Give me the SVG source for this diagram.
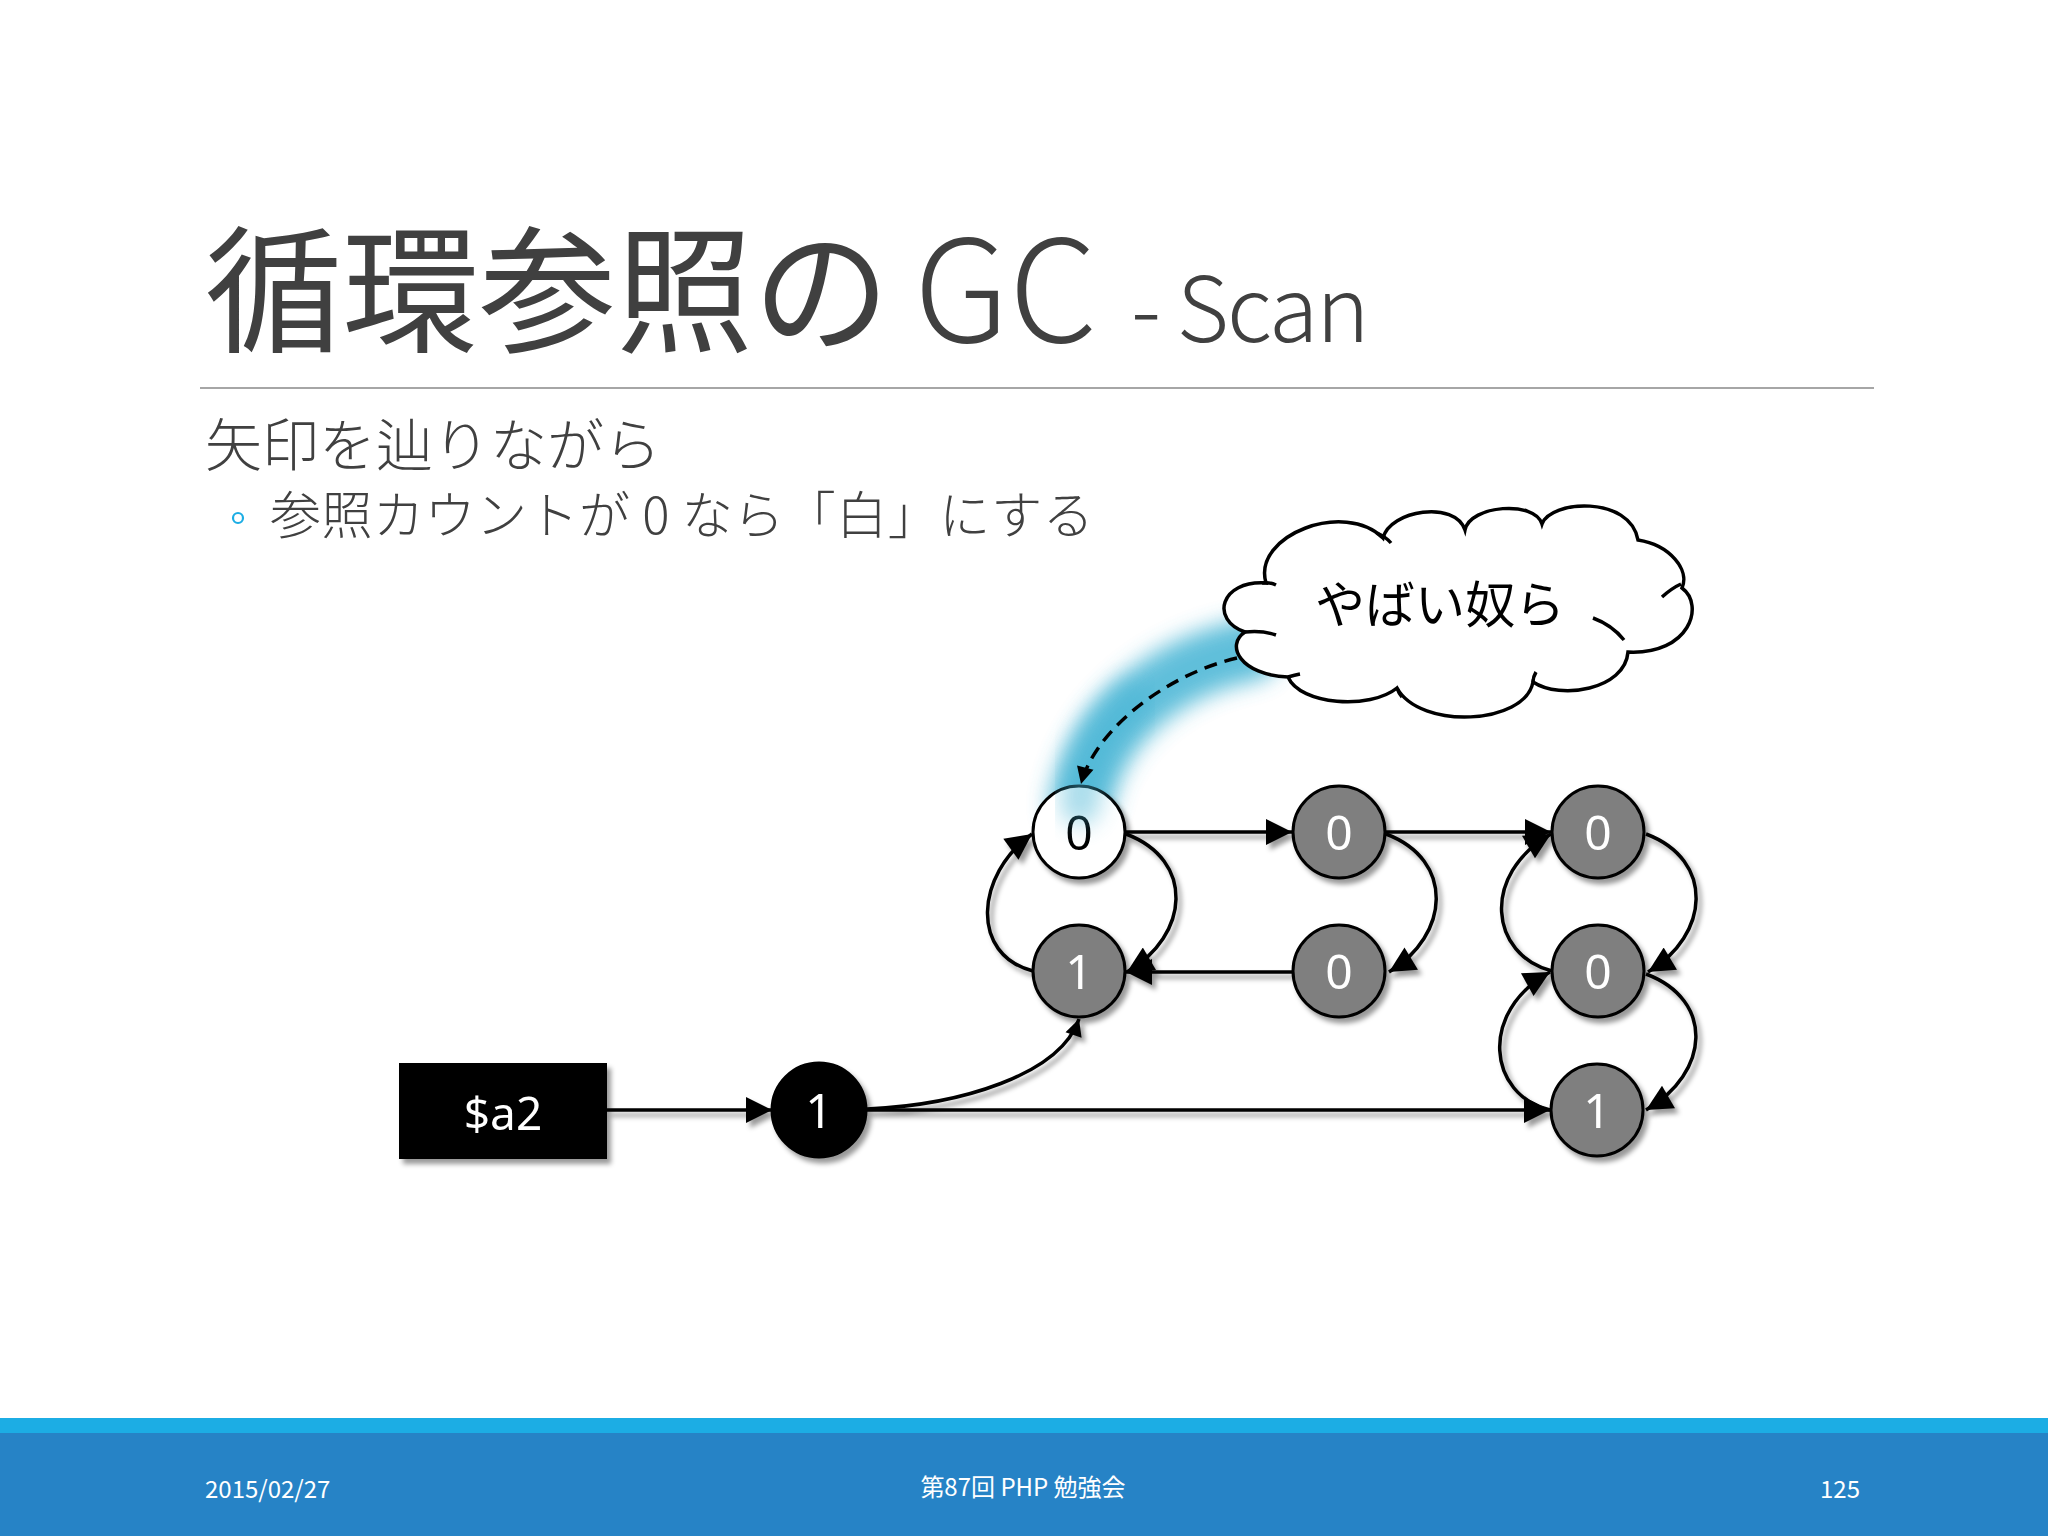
<svg xmlns="http://www.w3.org/2000/svg" width="2048" height="1536" viewBox="0 0 2048 1536">
<defs>
<style>
.ttl{font-family:"Noto Sans CJK JP","Open Sans",sans-serif;font-weight:400;fill:#404040}
.lat{font-weight:300}
.body{font-family:"Noto Sans CJK JP","Open Sans",sans-serif;font-weight:300;fill:#404040}
.foot{font-family:"Noto Sans CJK JP","Open Sans",sans-serif;font-size:24px;fill:#ffffff}
.conn{fill:none;stroke:#000;stroke-width:3.5}
.node{stroke:#000;stroke-width:3}
.num{font-family:"Noto Sans","Open Sans",sans-serif;font-size:48px;text-anchor:middle}
.gray{fill:#7f7f7f}
</style>
<filter id="sh" x="-20%" y="-20%" width="150%" height="150%">
<feDropShadow dx="4" dy="5" stdDeviation="2.5" flood-color="#000" flood-opacity="0.4"/>
</filter>
<filter id="glow" x="-50%" y="-50%" width="200%" height="200%">
<feGaussianBlur stdDeviation="11"/>
</filter>
<marker id="ah" viewBox="0 0 10 10" refX="10" refY="5" markerUnits="userSpaceOnUse" markerWidth="28" markerHeight="26" orient="auto">
<path d="M0,0 L10,5 L0,10 z" fill="#000"/>
</marker>
<marker id="ahs" viewBox="0 0 10 10" refX="10" refY="5" markerUnits="userSpaceOnUse" markerWidth="22" markerHeight="17" orient="auto">
<path d="M0,0 L10,5 L0,10 z" fill="#000"/>
</marker>
</defs>
<rect width="2048" height="1536" fill="#fff"/>

<!-- title -->
<text class="ttl" y="342"><tspan x="205" font-size="137">循環参照の</tspan><tspan class="lat" x="914" font-size="141">GC</tspan><tspan class="lat" x="1131" font-size="90" letter-spacing="-2">- Scan</tspan></text>
<line x1="200" y1="388" x2="1874" y2="388" stroke="#a6a6a6" stroke-width="2"/>
<text class="body" x="205" y="466" font-size="57">矢印を辿りながら</text>
<circle cx="238" cy="518" r="5" fill="none" stroke="#1cade4" stroke-width="2.2"/>
<text class="body" x="270" y="534" font-size="51" letter-spacing="0.5">参照カウントが 0 なら「白」にする</text>

<!-- glow highlight -->
<path d="M1250,650 C1170,665 1095,720 1080,805" fill="none" stroke="#45b4d4" stroke-width="62" stroke-linecap="round" opacity="0.85" filter="url(#glow)"/>

<!-- connectors -->
<g id="connectors" filter="url(#sh)">
<line class="conn" x1="607" y1="1110" x2="772" y2="1110" marker-end="url(#ah)"/>
<line class="conn" x1="867" y1="1110" x2="1550" y2="1110" marker-end="url(#ah)"/>
<path class="conn" d="M867,1109 C960,1105 1060,1075 1079,1019" marker-end="url(#ahs)"/>
<line class="conn" x1="1126" y1="832" x2="1292" y2="832" marker-end="url(#ah)"/>
<line class="conn" x1="1386" y1="832" x2="1551" y2="832" marker-end="url(#ah)"/>
<line class="conn" x1="1292" y1="972" x2="1126" y2="972" marker-end="url(#ah)"/>
<path class="conn" d="M1033,971 C970,955 975,875 1032,834" marker-end="url(#ah)"/>
<path class="conn" d="M1126,834 C1195,860 1190,935 1127,972" marker-end="url(#ah)"/>
<path class="conn" d="M1386,834 C1455,860 1450,935 1389,972" marker-end="url(#ah)"/>
<path class="conn" d="M1646,834 C1715,860 1710,935 1648,972" marker-end="url(#ah)"/>
<path class="conn" d="M1646,974 C1715,1000 1710,1073 1646,1110" marker-end="url(#ah)"/>
<path class="conn" d="M1552,971 C1490,955 1480,875 1551,834" marker-end="url(#ah)"/>
<path class="conn" d="M1550,1110 C1488,1095 1478,1012 1550,972" marker-end="url(#ah)"/>
</g>

<!-- nodes -->
<g id="var-a2" filter="url(#sh)">
<rect x="399" y="1063" width="208" height="96" fill="#000"/>
<text x="503" y="1130" font-family="Noto Sans, Open Sans, sans-serif" font-size="46" fill="#fff" text-anchor="middle">$a2</text>
</g>
<g id="n-root" filter="url(#sh)">
<circle cx="819" cy="1110" r="47" fill="#000" class="node"/>
<text class="num" x="819" y="1128" fill="#fff">1</text>
</g>
<g id="n-a" filter="url(#sh)">
<circle cx="1079" cy="832" r="46" fill="#fff" class="node"/>
<text class="num" x="1079" y="850" fill="#000">0</text>
</g>
<g id="n-b" filter="url(#sh)">
<circle cx="1079" cy="971" r="46" class="node gray"/>
<text class="num" x="1079" y="989" fill="#fff">1</text>
</g>
<g id="n-c" filter="url(#sh)">
<circle cx="1339" cy="832" r="46" class="node gray"/>
<text class="num" x="1339" y="850" fill="#fff">0</text>
</g>
<g id="n-d" filter="url(#sh)">
<circle cx="1339" cy="971" r="46" class="node gray"/>
<text class="num" x="1339" y="989" fill="#fff">0</text>
</g>
<g id="n-e" filter="url(#sh)">
<circle cx="1598" cy="832" r="46" class="node gray"/>
<text class="num" x="1598" y="850" fill="#fff">0</text>
</g>
<g id="n-f" filter="url(#sh)">
<circle cx="1598" cy="971" r="46" class="node gray"/>
<text class="num" x="1598" y="989" fill="#fff">0</text>
</g>
<g id="n-g" filter="url(#sh)">
<circle cx="1597" cy="1110" r="46" class="node gray"/>
<text class="num" x="1597" y="1128" fill="#fff">1</text>
</g>

<!-- glow over node top -->
<path d="M1130,700 C1095,730 1082,770 1080,805" fill="none" stroke="#45b4d4" stroke-width="40" stroke-linecap="round" opacity="0.45" filter="url(#glow)"/>

<!-- cloud callout -->
<g id="cloud">
<path d="M1266,583 C1252,535 1345,500 1383,538 C1390,510 1455,500 1465,530 C1470,505 1535,500 1542,524 C1550,500 1630,495 1638,540 C1670,545 1690,570 1682,588 C1705,605 1690,655 1628,652 C1625,690 1560,700 1533,682 C1525,725 1420,730 1397,688 C1370,710 1300,705 1288,677 C1240,675 1225,645 1245,632 C1210,620 1220,580 1266,583 Z" fill="#fff" stroke="#000" stroke-width="3.5"/>
<path d="M1245,632 Q1262,630 1276,635 M1377,533 Q1386,537 1391,543 M1662,597 Q1672,588 1681,584 M1593,618 Q1612,625 1624,640 M1533,682 Q1533,677 1536,672 M1397,688 Q1399,694 1402,697 M1288,677 Q1295,675 1300,674 M1262,583 Q1270,582 1276,585" fill="none" stroke="#000" stroke-width="3.5"/>
<text x="1440" y="623" font-family="Noto Sans CJK JP, sans-serif" font-size="50" fill="#000" text-anchor="middle">やばい奴ら</text>
</g>
<path class="conn" d="M1237,658 C1165,675 1095,730 1081,784" stroke-width="3.5" stroke-dasharray="13,8" marker-end="url(#ahs)"/>

<!-- footer -->
<rect x="0" y="1418" width="2048" height="15" fill="#1cade4"/>
<rect x="0" y="1433" width="2048" height="103" fill="#2683c6"/>
<text class="foot" x="205" y="1498">2015/02/27</text>
<text class="foot" x="1023" y="1496" text-anchor="middle">第87回 PHP 勉強会</text>
<text class="foot" x="1860" y="1498" text-anchor="end">125</text>
</svg>
